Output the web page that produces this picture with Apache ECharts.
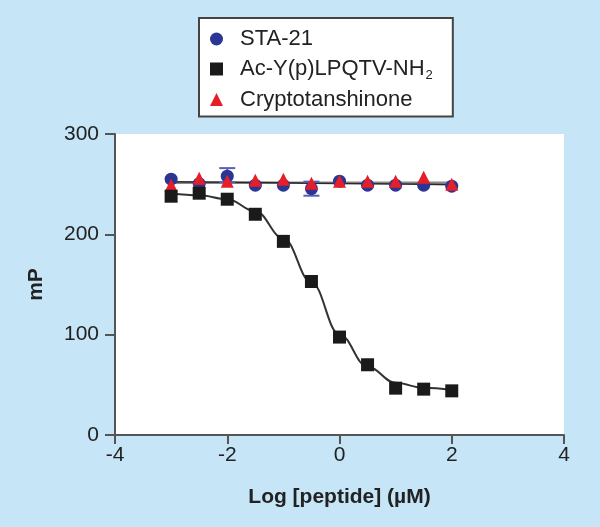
<!DOCTYPE html>
<html>
<head>
<meta charset="utf-8">
<script src="https://cdn.jsdelivr.net/npm/echarts@6/dist/echarts.min.js"></script>
<style>
html,body{margin:0;padding:0;background:#c6e5f7;}
#chart{width:600px;height:527px;}
</style>
</head>
<body>
<div id="chart"></div>
<script>
// Log concentrations (µM)
const logConc = [-3, -2.5, -2, -1.5, -1, -0.5, 0, 0.5, 1, 1.5, 2];
// Measured mP values
const sta21 = [255, 250.5, 258, 249, 249, 245.5, 253, 249, 249, 249, 248];
const acPeptide = [238, 241, 235, 220, 193, 153, 97.6, 70, 46.7, 45.7, 44];
const crypto = [249, 256, 253, 254, 255, 251, 253, 253, 253, 257, 250];
// STA-21 error bars: [x, low, high]
const sta21Err = [[-2, 252, 266], [-0.5, 238.5, 252.5]];
// Fitted curves
const acFit = [241, 239, 235, 223, 196, 152, 100, 68, 52, 47, 45];
const sta21Fit = [252.5, 252.2, 251.9, 251.6, 251.3, 251, 250.7, 250.4, 250.1, 249.8, 249.5];
const cryptoFit = [251.5, 251.5, 251.5, 251.5, 251.5, 251.5, 251.5, 251.5, 251.5, 251.5, 251.5];
const xTicks = [-4, -2, 0, 2, 4];
const yTicks = [0, 100, 200, 300];

const pair = (xs, ys) => xs.map((x, i) => [x, ys[i]]);
const FONT = '"Liberation Sans", Arial, sans-serif';
const BLUE = '#2b3594', RED = '#e61e28', BLACK = '#1a1a1a';

const chart = echarts.init(document.getElementById('chart'), null, {renderer: 'canvas'});
chart.setOption({
  backgroundColor: '#c6e5f7',
  animation: false,
  textStyle: {fontFamily: FONT},
  grid: {left: 115, right: 36, top: 134, bottom: 92, show: true, backgroundColor: '#ffffff', borderWidth: 0},
  legend: {
    orient: 'vertical', left: 199, top: 18,
    data: ['STA-21', 'Ac-Y(p)LPQTV-NH2', 'Cryptotanshinone'],
    backgroundColor: '#ffffff', borderColor: '#444', borderWidth: 2, borderRadius: 0,
    padding: [9, 20, 5, 11], itemGap: 6, itemWidth: 13, itemHeight: 13,
    formatter: n => n === 'Ac-Y(p)LPQTV-NH2' ? 'Ac-Y(p)LPQTV-NH{sub|2}' : n,
    textStyle: {
      fontSize: 22, color: '#222', fontFamily: FONT, lineHeight: 24, padding: [0, 0, 0, 12],
      rich: {sub: {fontSize: 13, color: '#222', fontFamily: FONT, padding: [12, 0, 0, 1]}}
    }
  },
  xAxis: {
    type: 'value', min: -4, max: 4, interval: 2,
    axisLine: {show: true, onZero: false, lineStyle: {color: '#555', width: 2}},
    axisTick: {show: true, inside: false, length: 9, lineStyle: {color: '#555', width: 2}},
    splitLine: {show: false},
    axisLabel: {fontSize: 21, color: '#222', margin: 10, fontFamily: FONT,
      customValues: xTicks, formatter: v => String(v)},
    name: 'Log [peptide] (\u00b5M)', nameLocation: 'middle', nameGap: 52,
    nameTextStyle: {fontSize: 21, fontWeight: 'bold', color: '#222', fontFamily: FONT}
  },
  yAxis: {
    type: 'value', min: 0, max: 300, interval: 100,
    axisLine: {show: true, onZero: false, lineStyle: {color: '#555', width: 2}},
    axisTick: {show: true, inside: false, length: 10, lineStyle: {color: '#555', width: 2}},
    splitLine: {show: false},
    axisLabel: {fontSize: 21, color: '#222', margin: 16, fontFamily: FONT},
    name: 'mP', nameLocation: 'middle', nameGap: 68, nameRotate: 90,
    nameTextStyle: {fontSize: 21, fontWeight: 'bold', color: '#222', fontFamily: FONT}
  },
  series: [
    {type: 'line', data: pair(logConc, cryptoFit), showSymbol: false, silent: true,
      lineStyle: {color: '#8a8a8a', width: 2.5}, z: 2},
    {type: 'line', data: pair(logConc, sta21Fit), showSymbol: false, silent: true,
      lineStyle: {color: '#2a2a2a', width: 1.5}, z: 2},
    {type: 'line', data: pair(logConc, acFit), showSymbol: false, silent: true, smooth: 0.4,
      smoothMonotone: 'x', lineStyle: {color: '#333', width: 2}, z: 2},
    {type: 'custom', name: 'sta21err', data: sta21Err, z: 3,
      renderItem: (params, api) => {
        const x = api.value(0);
        const lo = api.coord([x, api.value(1)]);
        const hi = api.coord([x, api.value(2)]);
        const w = 8;
        const st = {stroke: '#5560b8', lineWidth: 2};
        return {type: 'group', children: [
          {type: 'line', shape: {x1: lo[0], y1: lo[1], x2: hi[0], y2: hi[1]}, style: st},
          {type: 'line', shape: {x1: lo[0] - w, y1: lo[1], x2: lo[0] + w, y2: lo[1]}, style: st},
          {type: 'line', shape: {x1: hi[0] - w, y1: hi[1], x2: hi[0] + w, y2: hi[1]}, style: st}
        ]};
      }},
    {type: 'scatter', name: 'STA-21', data: pair(logConc, sta21), symbol: 'circle', symbolSize: 13,
      itemStyle: {color: BLUE, opacity: 1}, z: 4},
    {type: 'scatter', name: 'Cryptotanshinone', data: pair(logConc, crypto), symbol: 'triangle', symbolSize: 13,
      itemStyle: {color: RED, opacity: 1}, z: 5},
    {type: 'scatter', name: 'Ac-Y(p)LPQTV-NH2', data: pair(logConc, acPeptide), symbol: 'rect', symbolSize: 13,
      itemStyle: {color: BLACK, opacity: 1}, z: 5}
  ]
});
</script>
</body>
</html>
